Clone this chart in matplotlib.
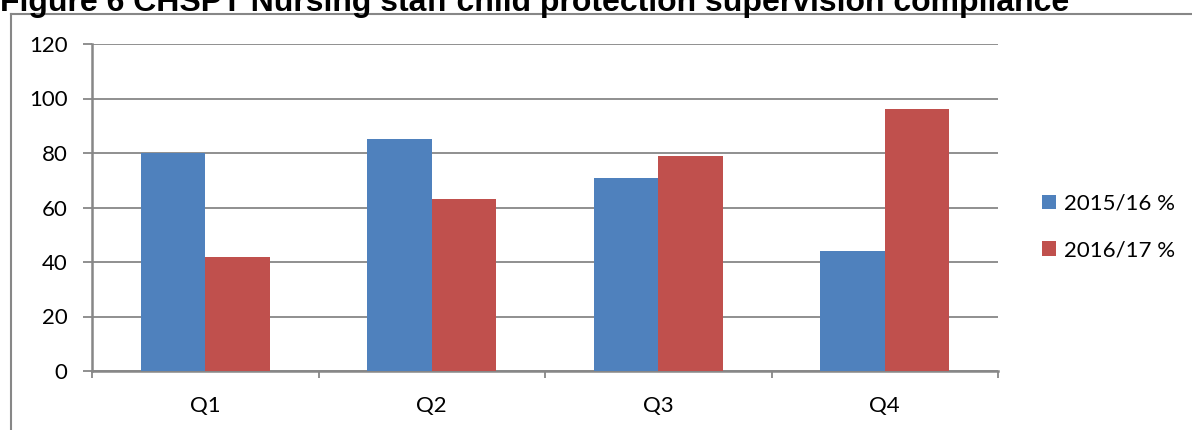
import numpy as np
import matplotlib.pyplot as plt
from matplotlib.lines import Line2D
from matplotlib.patches import Patch

quarters = ['Q1', 'Q2', 'Q3', 'Q4']
series_names = ['2015/16 %', '2016/17 %']
vals_1516 = [80, 85, 71, 44]
vals_1617 = [42, 63, 79, 96]
colors = ['#4F81BD', '#C0504D']
yticks = [0, 20, 40, 60, 80, 100, 120]

plt.rcParams['font.family'] = ['Lato', 'DejaVu Sans']

W, H = 1192, 430
fig = plt.figure(figsize=(W / 100, H / 100), dpi=100)

# plot area in pixel terms
left, right, top, bottom = 92, 998, 44, 371
ax = fig.add_axes([left / W, 1 - bottom / H, (right - left) / W, (bottom - top) / H])

x = np.arange(len(quarters))
bw = 0.285
ax.bar(x - bw / 2, vals_1516, bw, color=colors[0], zorder=3)
ax.bar(x + bw / 2, vals_1617, bw, color=colors[1], zorder=3)

grid_c = '#878787'
fs = 16
ax.set_xlim(-0.5, len(quarters) - 0.5)
ax.set_ylim(0, 120)
ax.set_yticks(yticks)
ax.set_yticklabels([str(v) for v in yticks], fontsize=fs)
ax.yaxis.grid(True, color=grid_c, linewidth=1.3, zorder=0)
ax.set_xticks(np.arange(len(quarters) + 1) - 0.5)
ax.set_xticklabels([])
ax.set_xticks(x, minor=True)
ax.set_xticklabels(quarters, minor=True, fontsize=fs)
ax.tick_params(axis='x', which='major', direction='out', length=5, color=grid_c, width=1.3)
ax.tick_params(axis='x', which='minor', length=0, pad=18)
ax.tick_params(axis='y', direction='out', length=6.5, color=grid_c, width=1.3, pad=11)
for s in ['top', 'right']:
    ax.spines[s].set_visible(False)
for s in ['left', 'bottom']:
    ax.spines[s].set_color(grid_c)
    ax.spines[s].set_linewidth(1.8)

handles = [Patch(facecolor=c) for c in colors]
fig.legend(handles, series_names, loc='center left', bbox_to_anchor=(1022 / W, 1 - 227 / H),
           frameon=False, fontsize=fs, handlelength=0.62, handleheight=0.62,
           handletextpad=0.35, labelspacing=1.2)

# outer chart frame
fig.add_artist(Line2D([11 / W, 1], [1 - 14 / H, 1 - 14 / H], color=grid_c, linewidth=1.5))
fig.add_artist(Line2D([11 / W, 11 / W], [0, 1 - 14 / H], color=grid_c, linewidth=1.5))

fig.text(0, 1 - 11 / H, 'Figure 6 CHSPT Nursing staff child protection supervision compliance',
         family=['Liberation Sans', 'DejaVu Sans'], fontweight='bold', fontsize=23,
         ha='left', va='baseline')

fig.savefig('out.png', dpi=100)
